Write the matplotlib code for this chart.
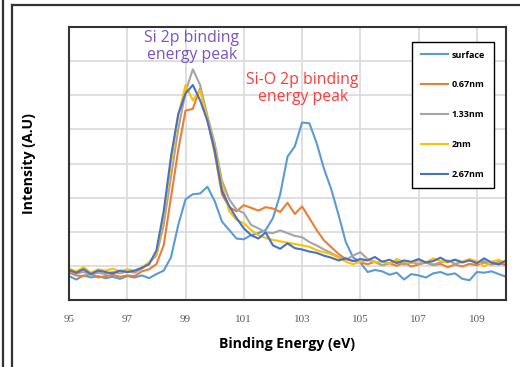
import matplotlib.pyplot as plt
import numpy as np
from matplotlib.lines import Line2D

# binding energy grid (eV), 0.25 eV steps
energy = np.arange(95.0, 110.001, 0.25)

surface = [0.70, 0.60, 0.72, 0.66, 0.70, 0.64, 0.68, 0.62, 0.70, 0.66,
           0.72, 0.64, 0.76, 0.86, 1.25, 2.20, 2.95, 3.10, 3.12, 3.32,
           2.90, 2.30, 2.05, 1.80, 1.78, 1.90, 1.96, 2.05, 2.40, 3.10,
           4.20, 4.50, 5.20, 5.18, 4.60, 3.85, 3.25, 2.50, 1.70, 1.25,
           1.10, 0.82, 0.88, 0.84, 0.74, 0.80, 0.60, 0.76, 0.72, 0.66,
           0.78, 0.82, 0.74, 0.78, 0.62, 0.58, 0.82, 0.80, 0.84, 0.76, 0.68]
d067 = [0.80, 0.72, 0.70, 0.76, 0.66, 0.70, 0.74, 0.68, 0.72, 0.70,
        0.84, 0.90, 1.05, 1.60, 3.00, 4.40, 5.55, 5.60, 6.20, 5.30,
        4.30, 3.10, 2.72, 2.60, 2.78, 2.70, 2.62, 2.72, 2.68, 2.58,
        2.85, 2.52, 2.74, 2.40, 2.05, 1.75, 1.55, 1.35, 1.20, 1.15,
        1.10, 1.05, 1.12, 1.02, 1.08, 1.00, 1.10, 0.98, 1.04, 1.10,
        1.02, 1.06, 0.96, 1.04, 0.98, 1.06, 1.02, 1.10, 1.04, 1.08, 1.02]
d133 = [0.85, 0.78, 0.82, 0.74, 0.80, 0.76, 0.82, 0.78, 0.84, 0.80,
        0.92, 1.10, 1.30, 2.20, 3.60, 5.00, 6.10, 6.76, 6.30, 5.40,
        4.60, 3.50, 2.95, 2.65, 2.55, 2.20, 2.10, 1.98, 1.96, 2.04,
        1.96, 1.88, 1.84, 1.70, 1.60, 1.48, 1.38, 1.26, 1.18, 1.30,
        1.40, 1.20, 1.12, 1.02, 1.08, 1.14, 1.04, 1.10, 1.06, 1.12,
        1.04, 1.10, 1.16, 1.06, 1.12, 1.18, 1.08, 1.14, 1.06, 1.12, 1.08]
d200 = [0.92, 0.84, 0.96, 0.80, 0.90, 0.86, 0.92, 0.84, 0.90, 0.86,
        0.96, 1.10, 1.35, 2.50, 4.00, 5.40, 6.30, 5.85, 6.15, 5.30,
        4.50, 3.40, 2.60, 2.35, 2.25, 2.05, 1.90, 1.82, 1.76, 1.72,
        1.68, 1.64, 1.60, 1.56, 1.46, 1.40, 1.34, 1.24, 1.12, 1.05,
        1.12, 1.18, 1.10, 1.14, 1.06, 1.20, 1.12, 1.08, 1.16, 1.10,
        1.22, 1.14, 1.10, 1.18, 1.12, 1.20, 1.14, 0.98, 1.12, 1.18, 1.08]
d267 = [0.88, 0.80, 0.90, 0.76, 0.86, 0.82, 0.78, 0.86, 0.82, 0.86,
        0.94, 1.05, 1.45, 2.60, 4.20, 5.45, 6.05, 6.30, 5.85, 5.25,
        4.40, 3.20, 2.75, 2.40, 2.10, 1.90, 1.80, 1.98, 1.60, 1.50,
        1.66, 1.52, 1.48, 1.42, 1.38, 1.30, 1.24, 1.16, 1.22, 1.14,
        1.20, 1.16, 1.26, 1.12, 1.18, 1.08, 1.16, 1.12, 1.20, 1.10,
        1.14, 1.24, 1.12, 1.18, 1.10, 1.16, 1.08, 1.22, 1.10, 1.04, 1.16]

labels = ['surface', '0.67nm', '1.33nm', '2nm', '2.67nm']
colors = ['#5B9BD5', '#ED7D31', '#A5A5A5', '#FFC000', '#4472C4']
xticks = [95, 97, 99, 101, 103, 105, 107, 109]

fig = plt.figure(figsize=(5.2, 3.67), dpi=100)
ax = fig.add_axes([69 / 520, 67 / 367, 437 / 520, 273 / 367])

for y, lab, c in zip([surface, d067, d133, d200, d267], labels, colors):
    ax.plot(energy, y, color=c, lw=1.5, label=lab)

ax.set_xlim(95, 110)
ax.set_ylim(0, 8)
ax.set_xticks(xticks)
ax.set_yticks(range(0, 9))
ax.set_yticklabels([])
ax.grid(True, color='#d9d9d9', lw=1.2)
ax.set_axisbelow(True)
ax.tick_params(length=0, pad=11)
for t in ax.get_xticklabels():
    t.set_fontfamily('Liberation Serif')
    t.set_fontsize(8)
    t.set_color('#595959')
for s in ax.spines.values():
    s.set_color('#333333')
    s.set_linewidth(1.5)

ax.set_xlabel('Binding Energy (eV)', fontfamily='Open Sans', fontweight='bold',
              fontsize=10.2, labelpad=9)
ax.set_ylabel('Intensity (A.U)', fontfamily='Open Sans', fontweight='bold',
              fontsize=10.2, labelpad=13)

ax.text(99.22, 7.44, 'Si 2p binding\nenergy peak', color='#7B52C4',
        fontfamily='Open Sans', fontsize=11.3, ha='center', va='center',
        linespacing=1.1)
ax.text(103.02, 6.2, 'Si-O 2p binding\nenergy peak', color='#FF3B3B',
        fontfamily='Open Sans', fontsize=11.3, ha='center', va='center',
        linespacing=1.1)

leg = ax.legend(loc='upper right', bbox_to_anchor=(0.982, 0.963),
                prop={'family': 'Open Sans', 'weight': 'bold', 'size': 6.5},
                labelspacing=2.3, handlelength=3.0, handletextpad=0.4,
                borderpad=1.0, fancybox=False, framealpha=1)
leg.get_frame().set_edgecolor('black')
leg.get_frame().set_linewidth(1.0)

# outer panel borders
fig.add_artist(Line2D([3 / 520, 3 / 520], [0, 1], color='#333333', lw=1.6))
fig.add_artist(Line2D([12 / 520, 12 / 520], [0, 1 - 5 / 367], color='#333333', lw=1.6))
fig.add_artist(Line2D([12 / 520, 1], [1 - 5 / 367, 1 - 5 / 367], color='#333333', lw=1.6))

fig.savefig('out.png', dpi=100)
